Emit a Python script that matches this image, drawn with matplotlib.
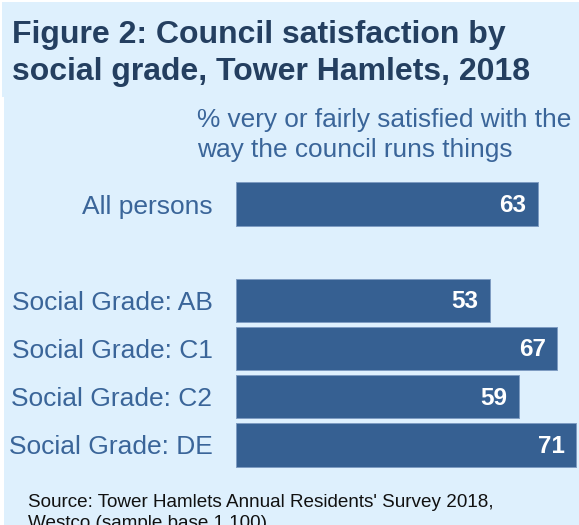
import matplotlib
matplotlib.use("Agg")
import matplotlib.pyplot as plt
from matplotlib.patches import Rectangle

plt.rcParams['font.family'] = ['Liberation Sans', 'DejaVu Sans']

# Data
categories = ["All persons", "Social Grade: AB", "Social Grade: C1",
              "Social Grade: C2", "Social Grade: DE"]
values = [63, 53, 67, 59, 71]
positions = [0, 2, 3, 4, 5]

title_lines = ["Figure 2: Council satisfaction by",
               "social grade, Tower Hamlets, 2018"]
subtitle_lines = ["% very or fairly satisfied with the",
                  "way the council runs things"]
source_lines = ["Source: Tower Hamlets Annual Residents' Survey 2018,",
                "Westco (sample base 1,100)"]

W, H = 579, 525
BG = '#DEF0FD'
BAR = '#366092'
NAVY = '#243F60'
LABEL = '#3A6599'

fig = plt.figure(figsize=(W / 100, H / 100), dpi=100, facecolor='white')


def fx(px):
    return px / W


def fy(py):
    return 1 - py / H


# Background panels
fig.patches.append(Rectangle((fx(2), fy(97)), fx(W - 2), 95 / H,
                             transform=fig.transFigure, facecolor=BG,
                             edgecolor='none', zorder=-5))
fig.patches.append(Rectangle((fx(4), 0), fx(W - 4), fy(97),
                             transform=fig.transFigure, facecolor=BG,
                             edgecolor='none', zorder=-5))

# Title
fig.text(fx(12), fy(43), title_lines[0], fontsize=23,
         fontweight='bold', color=NAVY, va='baseline', ha='left')
fig.text(fx(12), fy(80), title_lines[1], fontsize=23,
         fontweight='bold', color=NAVY, va='baseline', ha='left')

# Subtitle
fig.text(fx(197), fy(127), subtitle_lines[0], fontsize=18.9, color=LABEL,
         va='baseline', ha='left')
fig.text(fx(197), fy(157), subtitle_lines[1], fontsize=18.9, color=LABEL,
         va='baseline', ha='left')

# Bars
top_px, bot_px = 150, 490
pitch = 48.2
center0 = 204
ax = fig.add_axes([fx(236), fy(bot_px), fx(W - 236), (bot_px - top_px) / H],
                  zorder=2)
ax.patch.set_visible(False)
ax.barh(positions, values, height=0.9, color=BAR, edgecolor='#7E9CC2',
        linewidth=0.7)
ax.set_xlim(0, 71 * (W - 236) / (576 - 236))
ax.set_ylim((bot_px - center0) / pitch, (top_px - center0) / pitch)
ax.set_yticks(positions)
ax.set_yticklabels(categories, fontsize=19, color=LABEL)
ax.tick_params(axis='y', length=0, pad=17)
ax.set_xticks([])
for s in ax.spines.values():
    s.set_visible(False)

for p, v in zip(positions, values):
    ax.annotate(str(v), xy=(v, p), xytext=(-8, -1), textcoords='offset points',
                ha='right', va='center', color='white', fontsize=17.5,
                fontweight='bold')

# Source note
fig.text(fx(28), fy(507), source_lines[0], fontsize=13.6, color='#111111',
         va='baseline', ha='left')
fig.text(fx(28), fy(528), source_lines[1], fontsize=13.6, color='#111111',
         va='baseline', ha='left')

fig.savefig('out.png', dpi=100, facecolor='white')
